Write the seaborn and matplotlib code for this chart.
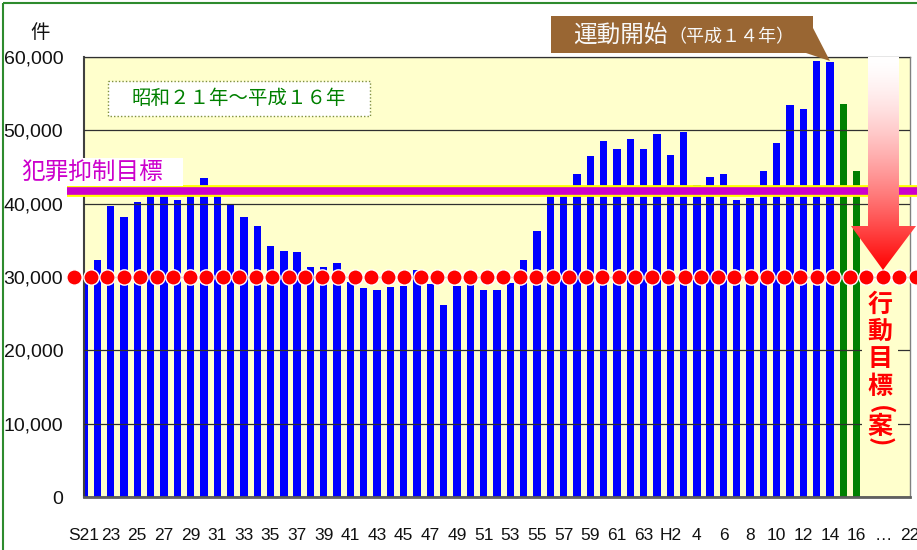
import numpy as np
import pandas as pd
import matplotlib
matplotlib.use("Agg")
import matplotlib.pyplot as plt
import matplotlib.patheffects as pe
from matplotlib.patches import Polygon, Rectangle
import seaborn as sns

# データ（昭和21年～平成16年の件数）
years = ["S21", "S22", "S23", "S24", "S25", "S26", "S27", "S28", "S29", "S30",
         "S31", "S32", "S33", "S34", "S35", "S36", "S37", "S38", "S39", "S40",
         "S41", "S42", "S43", "S44", "S45", "S46", "S47", "S48", "S49", "S50",
         "S51", "S52", "S53", "S54", "S55", "S56", "S57", "S58", "S59", "S60",
         "S61", "S62", "S63", "S64", "H2", "H3", "H4", "H5", "H6", "H7",
         "H8", "H9", "H10", "H11", "H12", "H13", "H14", "H15", "H16"]
counts = [29500, 32300, 39700, 38200, 40200, 41300, 41500, 40500, 41200, 43500,
          41000, 40000, 38200, 37000, 34200, 33500, 33400, 31400, 31400, 31900,
          29300, 28500, 28200, 28700, 28800, 30900, 29100, 26200, 28800, 29000,
          28200, 28200, 29200, 32300, 36300, 41200, 41300, 44000, 46500, 48500,
          47500, 48800, 47500, 49500, 46600, 49800, 42500, 43600, 44000, 40500,
          40800, 44400, 48300, 53500, 52900, 59500, 59300, 53600, 44500]
period = ["運動前"] * 57 + ["運動後"] * 2
tick_labels = ["S21", "23", "25", "27", "29", "31", "33", "35", "37", "39", "41",
               "43", "45", "47", "49", "51", "53", "55", "57", "59", "61", "63",
               "H2", "4", "6", "8", "10", "12", "14", "16", "…", "22"]
target_value = 41700   # 犯罪抑制目標
goal_value = 30000     # 行動目標（案）
n_slots = 62           # S21 ～ 22 までの目盛り位置

W, H = 917, 550
sns.set_style("white")
plt.rcParams['font.family'] = ['Noto Sans CJK JP', 'DejaVu Sans']
latin = ['Liberation Sans', 'DejaVu Sans']
cjk = ['Noto Sans CJK JP', 'DejaVu Sans']

fig = plt.figure(figsize=(W / 100, H / 100), dpi=100)
ax = fig.add_axes([84 / W, 1 - 497 / H, (910 - 84) / W, (497 - 57) / H])
ax.set_facecolor("#FFFFCC")

df = pd.DataFrame({"pos": np.arange(len(counts)), "件数": counts, "区分": period})
sns.barplot(data=df, x="pos", y="件数", hue="区分", native_scale=True, dodge=False,
            palette={"運動前": "#0000FF", "運動後": "#008000"}, saturation=1,
            width=0.55, errorbar=None, legend=False, linewidth=0, ax=ax)

ax.set_xlim(0, n_slots)
ax.set_ylim(0, 60000)
ax.set_xlabel("")
ax.set_ylabel("")

# 目盛り
ax.set_xticks(np.arange(0, n_slots + 1, 2))
ax.set_xticklabels(tick_labels, family=latin, fontsize=12.5, color="#111111")
ax.set_xticks(np.arange(7, n_slots, 7), minor=True)
ax.tick_params(axis="x", which="major", length=0, pad=22)
ax.tick_params(axis="x", which="minor", direction="in", length=6, width=1, color="#303030")
ax.set_yticks(np.arange(0, 60001, 10000))
ax.set_yticklabels([f"{v:,}" for v in range(0, 60001, 10000)], family=latin,
                   fontsize=14, color="#111111")
ax.tick_params(axis="y", length=0, pad=15)

ax.yaxis.grid(True, color="#303030", lw=0.9)
ax.set_axisbelow(False)
for side in ["top", "right"]:
    ax.spines[side].set_color("#808080")
    ax.spines[side].set_linewidth(1)
ax.spines["left"].set_color("#404040")
ax.spines["left"].set_linewidth(1.5)
ax.spines["bottom"].set_color("#606060")
ax.spines["bottom"].set_linewidth(2)

# 行動目標（案）の赤い点線
dot_x = np.linspace(-0.75, 62.45, 52)
ax.plot(dot_x, [goal_value] * len(dot_x), "o", ms=11, mfc="#FF0000", mec="white",
        mew=1, clip_on=False, zorder=5)

# 犯罪抑制目標ライン
ax.plot([-1.25, 63], [target_value, target_value], color="#CC00CC", lw=5.5,
        solid_capstyle="butt", clip_on=False, zorder=6,
        path_effects=[pe.Stroke(linewidth=8.5, foreground="#FFFF00"), pe.Normal()])

# 装飾用のオーバーレイ（ピクセル座標）
ov = fig.add_axes([0, 0, 1, 1], facecolor="none")
ov.set_xlim(0, W)
ov.set_ylim(H, 0)
ov.axis("off")

ov.add_patch(Rectangle((3, 3), 1000, 1000, fill=False, ec="#2E8B2E", lw=1.5))
ov.text(40, 33, "件", fontsize=14, ha="center", va="center", family=cjk, color="#111111")

# 犯罪抑制目標ラベル
ov.add_patch(Rectangle((17, 158), 166, 28, fc="white", ec="none"))
ov.text(21, 172, "犯罪抑制目標", fontsize=17, color="#CC00CC", ha="left", va="center", family=cjk)

# 期間ラベル
ov.add_patch(Rectangle((108, 81), 262, 35, fc="white", ec="#7F8F40", lw=1, ls=(0, (1, 1.5))))
ov.text(239, 99, "昭和２１年～平成１６年", fontsize=14, color="#008000",
        ha="center", va="center", family=cjk)

# 運動開始の吹き出し
ov.add_patch(Polygon([(551, 16), (813, 16), (813, 28), (830, 61), (806, 53), (551, 53)],
                     closed=True, fc="#996633", ec="none"))
ov.text(573, 36, "運動開始", fontsize=17, color="#F8F8F8", ha="left", va="center", family=cjk)
ov.text(668, 37, "（平成１４年）", fontsize=13, color="#F8F8F8", ha="left", va="center", family=cjk)

# グラデーション矢印
arrow = Polygon([(868, 57), (899, 57), (899, 226), (916, 226), (883, 270),
                 (851, 226), (868, 226)], closed=True, fc="none", ec="none")
ov.add_patch(arrow)
t = np.linspace(0, 1, 256)
g = 1 - t ** 1.5
grad = np.stack([np.ones_like(t), g, g], axis=1)[:, None, :]
img = ov.imshow(grad, extent=(851, 916, 270, 57), aspect="auto", interpolation="bilinear")
img.set_clip_path(arrow)

# 行動目標（案）の縦書き
ov.add_patch(Rectangle((862, 290), 36, 160, fc="#FFFFCC", ec="none"))
for ch, yy, rot in [("行", 305, 0), ("動", 332, 0), ("目", 359, 0), ("標", 387, 0),
                    ("(", 410, -90), ("案", 427, 0), (")", 442, -90)]:
    ov.text(880, yy, ch, fontsize=18, fontweight="bold", color="#FF0000",
            ha="center", va="center", rotation=rot, family=cjk)

ov.set_xlim(0, W)
ov.set_ylim(H, 0)

fig.savefig("out.png", dpi=100)
